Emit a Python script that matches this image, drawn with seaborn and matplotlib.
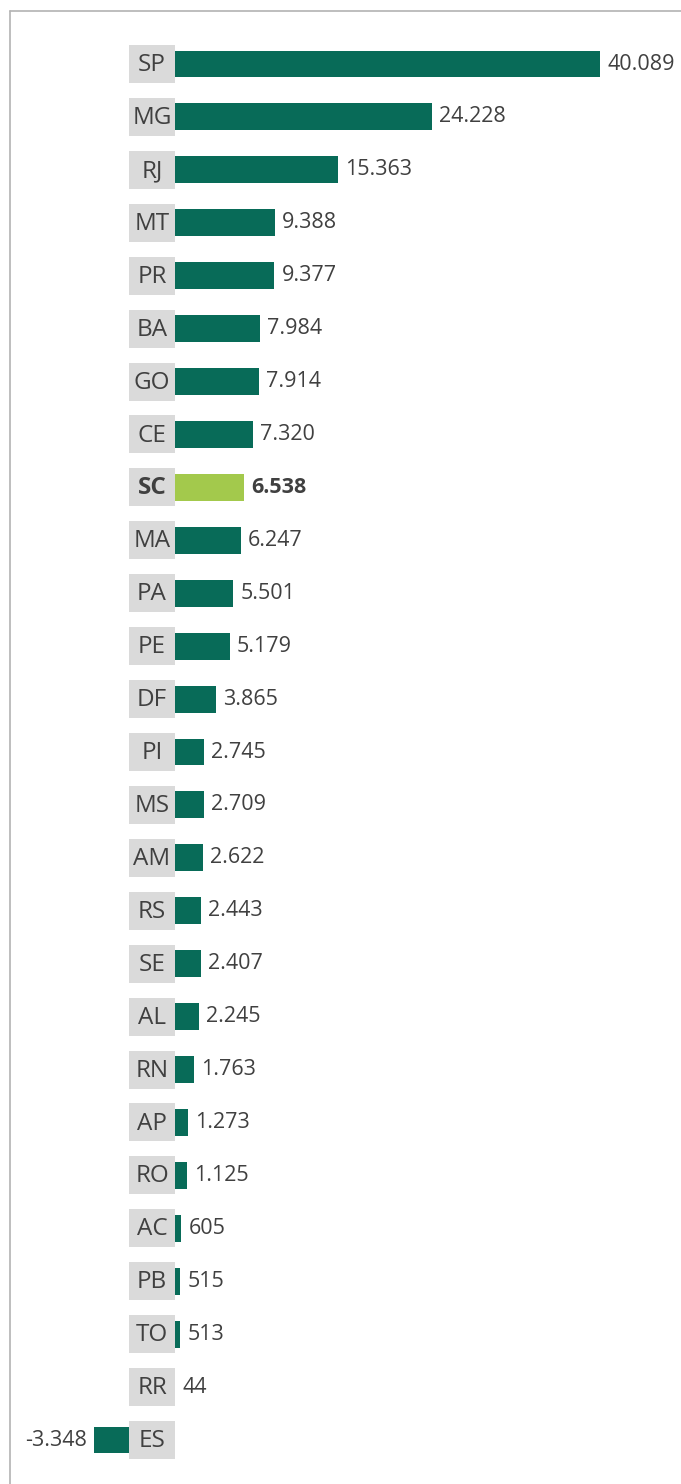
import matplotlib
matplotlib.use("Agg")
import matplotlib.pyplot as plt
import seaborn as sns
import pandas as pd
from matplotlib.lines import Line2D

states = ["SP", "MG", "RJ", "MT", "PR", "BA", "GO", "CE", "SC", "MA", "PA", "PE", "DF",
          "PI", "MS", "AM", "RS", "SE", "AL", "RN", "AP", "RO", "AC", "PB", "TO", "RR", "ES"]
values = [40089, 24228, 15363, 9388, 9377, 7984, 7914, 7320, 6538, 6247, 5501, 5179, 3865,
          2745, 2709, 2622, 2443, 2407, 2245, 1763, 1273, 1125, 605, 515, 513, 44, -3348]
highlight = "SC"

DARK = "#086b58"
LIGHT = "#a3c94c"
BOX = "#dadada"
TXT = "#404040"

sns.set_theme(style="white")
plt.rcParams["font.family"] = ["Open Sans", "DejaVu Sans"]

W, H = 681, 1484
fig = plt.figure(figsize=(W / 100, H / 100), dpi=100)
ax = fig.add_axes([0, 0, 1, 1])

df = pd.DataFrame({"state": states, "value": values})
palette = {s: (LIGHT if s == highlight else DARK) for s in states}
sns.barplot(data=df, x="value", y="state", hue="state", palette=palette, legend=False,
            orient="h", width=0.51, ax=ax, saturation=1, linewidth=0)

# pixel scale
x0_px = 175
px_per_unit = (600 - 175) / 40089.0
row_px = (1440 - 64) / 26.0
top_px = 64

ax.set_xlim(-x0_px / px_per_unit, (W - x0_px) / px_per_unit)
ax.set_ylim((H - top_px) / row_px, -top_px / row_px)

box_w = 46 / px_per_unit
box_h = 38 / row_px

# shift negative bars to start at left edge of label box
for p in ax.patches:
    if p.get_width() < 0:
        p.set_x(p.get_x() - box_w)

ax.barh(range(len(states)), [-box_w] * len(states), height=box_h, color=BOX,
        linewidth=0, zorder=3)

gap = 7 / px_per_unit
for i, (s, v) in enumerate(zip(states, values)):
    bold = "bold" if s == highlight else "normal"
    ax.text(-box_w / 2, i + 0.02, s, ha="center", va="center", fontsize=17.5, color=TXT,
            fontweight=bold, zorder=4)
    lab = f"{v:,}".replace(",", ".")
    if v >= 0:
        ax.text(v + gap, i, lab, ha="left", va="center", fontsize=15.5, color=TXT,
                fontweight=bold)
    else:
        ax.text(v - box_w - gap, i, lab, ha="right", va="center", fontsize=15.5, color=TXT,
                fontweight=bold)

ax.axis("off")

# frame lines (left and top)
fig.add_artist(Line2D([9.5 / W, 9.5 / W], [0, 1 - 11 / H], transform=fig.transFigure,
                      color="#b3b3b3", lw=1.2))
fig.add_artist(Line2D([9.5 / W, 1], [1 - 11 / H, 1 - 11 / H], transform=fig.transFigure,
                      color="#b3b3b3", lw=1.2))

fig.savefig("out.png", dpi=100)
